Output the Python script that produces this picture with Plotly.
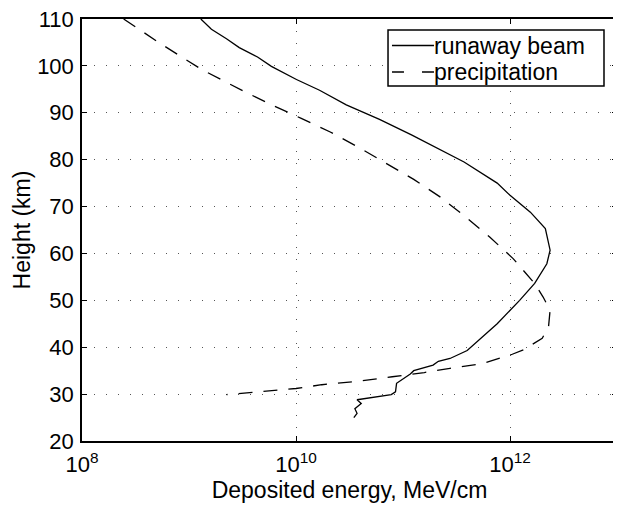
import plotly.graph_objects as go

# Runaway beam (solid): height (km) and deposited energy (MeV/cm)
beam_height = [110, 107.8, 105.8, 103.9, 101.9, 99.9, 97.1, 94.8, 91.7, 88.6, 85.3,
               82.0, 79.5, 75.0, 72.4, 68.8, 65.3, 60.7, 57.8, 53.6, 50.0, 45.0,
               39.3, 37.6, 37.0, 36.2, 35.0, 34.3, 32.3, 30.5, 29.9, 28.8, 28.0,
               26.9, 25.9, 25.0]
beam_energy = [1.29e9, 1.62e9, 2.24e9, 2.95e9, 4.37e9, 5.89e9, 1.01e10, 1.66e10,
               2.95e10, 6.03e10, 1.2e11, 2.29e11, 3.72e11, 7.59e11, 1.0e12, 1.55e12,
               2.14e12, 2.37e12, 2.21e12, 1.70e12, 1.23e12, 7.59e11, 3.98e11,
               2.75e11, 2.14e11, 1.91e11, 1.26e11, 1.17e11, 8.71e10, 8.51e10,
               7.76e10, 3.72e10, 4.07e10, 3.55e10, 3.72e10, 3.47e10]

# Precipitation (dashed)
precip_height = [110, 104.8, 101.2, 99.2, 94.6, 91.7, 88.8, 85.9, 82.7, 80.1, 75.8,
                 72.0, 67.9, 63.5, 58.9, 53.6, 50.7, 47.9, 44.3, 41.9, 39.5, 38.5,
                 36.5, 35.5, 34.6, 33.7, 32.8, 32.0, 31.2, 30.5, 29.9]
precip_energy = [2.45e8, 5.37e8, 9.55e8, 1.32e9, 3.24e9, 5.89e9, 1.12e10, 2.09e10,
                 3.80e10, 6.03e10, 1.26e11, 2.24e11, 3.80e11, 6.46e11, 1.07e12,
                 1.70e12, 2.04e12, 2.37e12, 2.29e12, 2.00e12, 1.35e12, 1.05e12,
                 5.50e11, 2.75e11, 1.58e11, 7.94e10, 3.98e10, 1.74e10, 1.0e10,
                 4.57e9, 2.24e9]

series_names = ["runaway beam", "precipitation"]
x_tickvals = [1e8, 1e10, 1e12]
x_ticktext = ["10<sup>8</sup>", "10<sup>10</sup>", "10<sup>12</sup>"]
y_tickvals = [20, 30, 40, 50, 60, 70, 80, 90, 100, 110]

FONT = "Liberation Sans, Arial, sans-serif"

fig = go.Figure()
fig.add_trace(go.Scatter(x=beam_energy, y=beam_height, mode="lines",
                         name=series_names[0],
                         line=dict(color="black", width=1.3)))
fig.add_trace(go.Scatter(x=precip_energy, y=precip_height, mode="lines",
                         name=series_names[1],
                         line=dict(color="black", width=1.3, dash="14px,11px")))

# Legend drawn as a MATLAB-style box (paper coordinates)
row_y = [0.9372, 0.8744]
fig.add_shape(type="rect", xref="paper", yref="paper",
              x0=0.572, x1=0.9757, y0=0.8412, y1=0.9739,
              line=dict(color="black", width=1.5), fillcolor="white", layer="above")
fig.add_shape(type="line", xref="paper", yref="paper",
              x0=0.5794, x1=0.6579, y0=row_y[0], y1=row_y[0],
              line=dict(color="black", width=1.3), layer="above")
fig.add_shape(type="line", xref="paper", yref="paper",
              x0=0.5794, x1=0.6579, y0=row_y[1], y1=row_y[1],
              line=dict(color="black", width=1.3, dash="12px,18px"), layer="above")
for name, yp in zip(series_names, row_y):
    fig.add_annotation(text=name, xref="paper", yref="paper", x=0.657, y=yp,
                       xanchor="left", yanchor="middle", showarrow=False,
                       font=dict(family=FONT, size=23, color="black"), borderpad=0)

fig.update_layout(
    width=621, height=508,
    margin=dict(l=74, r=12, t=11, b=75),
    paper_bgcolor="white", plot_bgcolor="white",
    font=dict(family=FONT, size=22, color="black"),
    showlegend=False,
    xaxis=dict(type="log", range=[8, 13], tickvals=x_tickvals, ticktext=x_ticktext,
               ticks="inside", ticklen=5, tickcolor="black",
               showline=True, linecolor="black", linewidth=1.5, mirror="ticks",
               showgrid=True, gridcolor="#555555", gridwidth=1, griddash="1px,11px",
               zeroline=False, tickfont=dict(size=22), automargin=False,
               ticklabelstandoff=3, ticklabeloverflow="allow",
               title=dict(text="Deposited energy, MeV/cm", font=dict(size=23), standoff=2)),
    yaxis=dict(range=[20, 110], tickvals=y_tickvals,
               ticks="inside", ticklen=5, tickcolor="black",
               showline=True, linecolor="black", linewidth=1.5, mirror="ticks",
               showgrid=True, gridcolor="#555555", gridwidth=1, griddash="1px,11px",
               zeroline=False, tickfont=dict(size=22), automargin=False,
               ticklabelstandoff=2, ticklabeloverflow="allow",
               title=dict(text="Height (km)", font=dict(size=23), standoff=0)),
)

fig.write_html("out.html")
